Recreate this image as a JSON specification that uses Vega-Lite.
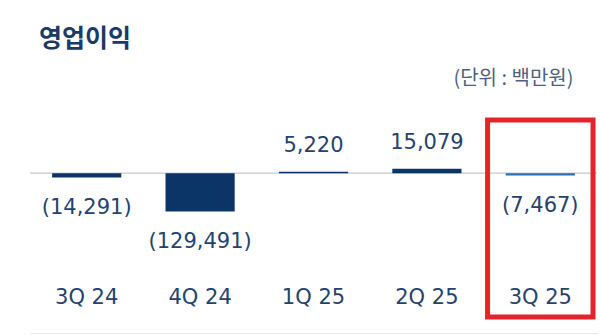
{
  "$schema": "https://vega.github.io/schema/vega-lite/v6.json",
  "autosize": "none",
  "width": 567,
  "height": 197,
  "padding": {"left": 30, "top": 120, "right": 3, "bottom": 18},
  "background": "white",
  "config": {"view": {"stroke": null}},
  "title": {
    "text": "영업이익",
    "anchor": "start",
    "frame": "group",
    "font": "Noto Sans CJK KR",
    "fontSize": 25,
    "fontWeight": "bold",
    "color": "#1b3a66",
    "dx": 9,
    "offset": 16
  },
  "data": {
    "values": [
      {"q": "3Q 24", "v": -14291},
      {"q": "4Q 24", "v": -129491},
      {"q": "1Q 25", "v": 5220},
      {"q": "2Q 25", "v": 15079},
      {"q": "3Q 25", "v": -7467}
    ]
  },
  "transform": [
    {"calculate": "datum.v < 0 ? '(' + format(-datum.v, ',') + ')' : format(datum.v, ',')", "as": "label"}
  ],
  "encoding": {
    "x": {
      "field": "q",
      "type": "nominal",
      "sort": null,
      "scale": {"paddingInner": 0, "paddingOuter": 0},
      "axis": {
        "title": null,
        "labelAngle": 0,
        "ticks": false,
        "domain": true,
        "domainColor": "#e6e6e6",
        "domainWidth": 1,
        "offset": 16,
        "labelBaseline": "middle",
        "labelPadding": -36,
        "labelFont": "DejaVu Sans",
        "labelFontSize": 21,
        "labelColor": "#24436e"
      }
    }
  },
  "layer": [
    {
      "mark": {"type": "rule", "color": "#d4d4d4", "strokeWidth": 1},
      "encoding": {"y": {"datum": 0, "type": "quantitative"}, "x": null}
    },
    {
      "mark": {"type": "bar", "width": {"band": 0.61}},
      "encoding": {
        "y": {
          "field": "v",
          "type": "quantitative",
          "scale": {"domain": [-485800, 180200], "nice": false, "zero": true},
          "axis": {
            "title": "(단위 : 백만원)",
            "labels": false,
            "ticks": false,
            "domain": false,
            "grid": false,
            "titleAngle": 0,
            "titleAlign": "right",
            "titleBaseline": "middle",
            "titleX": 543,
            "titleY": -42,
            "titleFont": "Noto Sans CJK KR",
            "titleFontSize": 20,
            "titleFontWeight": "normal",
            "titleColor": "#4f6180"
          }
        },
        "color": {
          "condition": {"test": "datum.q === '3Q 25'", "value": "#2e6db2"},
          "value": "#0b3566"
        }
      }
    },
    {
      "transform": [{"filter": "datum.v >= 0"}],
      "mark": {"type": "text", "baseline": "middle", "dy": -26, "font": "DejaVu Sans", "fontSize": 21, "color": "#24436e"},
      "encoding": {
        "y": {"field": "v", "type": "quantitative"},
        "text": {"field": "label"}
      }
    },
    {
      "transform": [{"filter": "datum.v < 0"}],
      "mark": {"type": "text", "baseline": "middle", "dy": 30, "font": "DejaVu Sans", "fontSize": 21, "color": "#24436e"},
      "encoding": {
        "y": {"field": "v", "type": "quantitative"},
        "text": {"field": "label"}
      }
    },
    {
      "transform": [{"filter": "datum.q === '3Q 25'"}],
      "mark": {"type": "rect", "width": {"band": 0.93}, "fill": null, "fillOpacity": 0, "stroke": "#e5232b", "strokeWidth": 5},
      "encoding": {}
    }
  ]
}
